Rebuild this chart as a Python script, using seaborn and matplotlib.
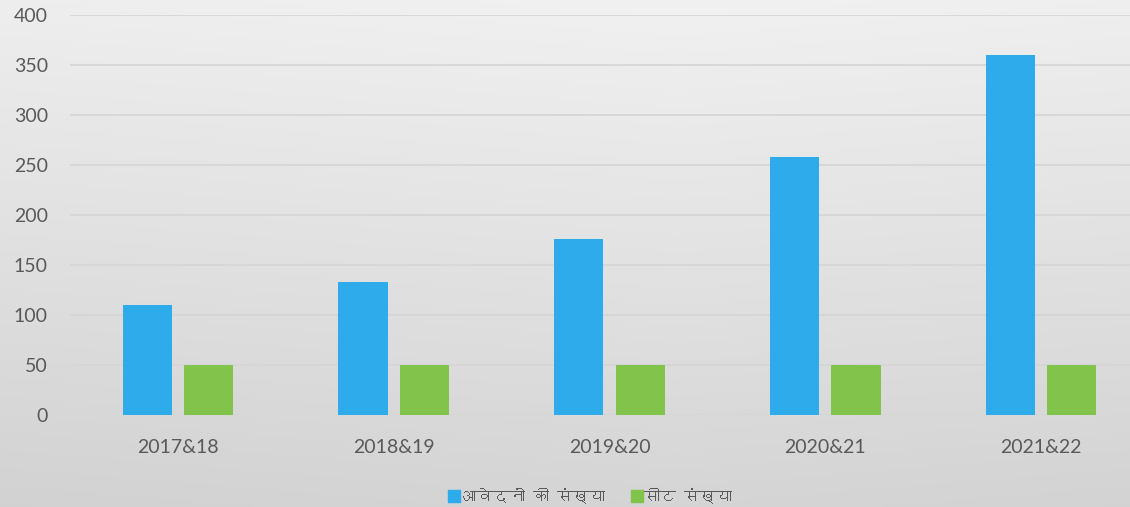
import numpy as np
import pandas as pd
import matplotlib
matplotlib.use("Agg")
import matplotlib.pyplot as plt
import seaborn as sns
from matplotlib import font_manager
from matplotlib.ft2font import FT2Font
from matplotlib.lines import Line2D

# Datos del gráfico
anios = ["2017&18", "2018&19", "2019&20", "2020&21", "2021&22"]
series = ["आवेदनों की संख्या", "सीट संख्या"]
aplicaciones = [110, 133, 176, 258, 360]
plazas = [50, 50, 50, 50, 50]
yticks = [0, 50, 100, 150, 200, 250, 300, 350, 400]

colores = ["#2EABEB", "#82C34C"]
gris = "#595959"


# Busca una fuente instalada que tenga glifos devanagari
def fuente_devanagari():
    for f in font_manager.fontManager.ttflist:
        try:
            cmap = FT2Font(f.fname).get_charmap()
        except Exception:
            continue
        if 0x0906 in cmap and 0x0938 in cmap:
            return f.name
    return None


sns.set_theme(style="white")
plt.rcParams['font.family'] = ['Lato', 'DejaVu Sans']
deva = fuente_devanagari()
fam_legend = [deva, 'DejaVu Sans'] if deva else ['Lato', 'DejaVu Sans']

df = pd.DataFrame({
    "anio": anios * 2,
    "serie": [series[0]] * len(anios) + [series[1]] * len(anios),
    "valor": aplicaciones + plazas,
})

fig = plt.figure(figsize=(11.3, 5.07), dpi=100)

# Fondo degradado
bg = fig.add_axes([0, 0, 1, 1], zorder=-10)
yy, xx = np.mgrid[0:1:300j, 0:1:600j]
grad = 0.945 - 0.11 * yy - 0.02 * np.abs(xx - 0.6)
bg.imshow(np.dstack([grad] * 3), aspect="auto", extent=[0, 1, 0, 1], origin="upper")
bg.axis("off")

ax = fig.add_axes([70 / 1130, 1 - 415 / 507, 1079 / 1130, 400 / 507])
ax.set_facecolor("none")

sns.barplot(data=df, x="anio", y="valor", hue="serie", palette=colores,
            width=0.57, gap=0.2, saturation=1, linewidth=0, ax=ax,
            legend=False, zorder=3)

ax.set_ylim(0, 400)
ax.set_yticks(yticks)
ax.set_xlim(-0.5, len(anios) - 0.5)
ax.yaxis.grid(True, color="#D6D6D6", linewidth=1.3, zorder=0)
ax.set_axisbelow(True)
for s in ax.spines.values():
    s.set_visible(False)
ax.tick_params(axis="y", length=0, pad=16, labelsize=14, labelcolor=gris)
ax.tick_params(axis="x", length=0, pad=17, labelsize=14, labelcolor=gris)
ax.set_xlabel("")
ax.set_ylabel("")

handles = [Line2D([0], [0], marker="s", linestyle="", markersize=8.5,
                  markerfacecolor=c, markeredgecolor=c) for c in colores]
leg = fig.legend(handles, series, loc="center", bbox_to_anchor=(590 / 1130, 1 - 496 / 507),
                 ncol=2, frameon=False, handletextpad=0.05, columnspacing=1.6,
                 handlelength=0.8, prop={"family": fam_legend, "size": 11.5})
for t in leg.get_texts():
    t.set_color(gris)

fig.savefig("out.png", dpi=100)
